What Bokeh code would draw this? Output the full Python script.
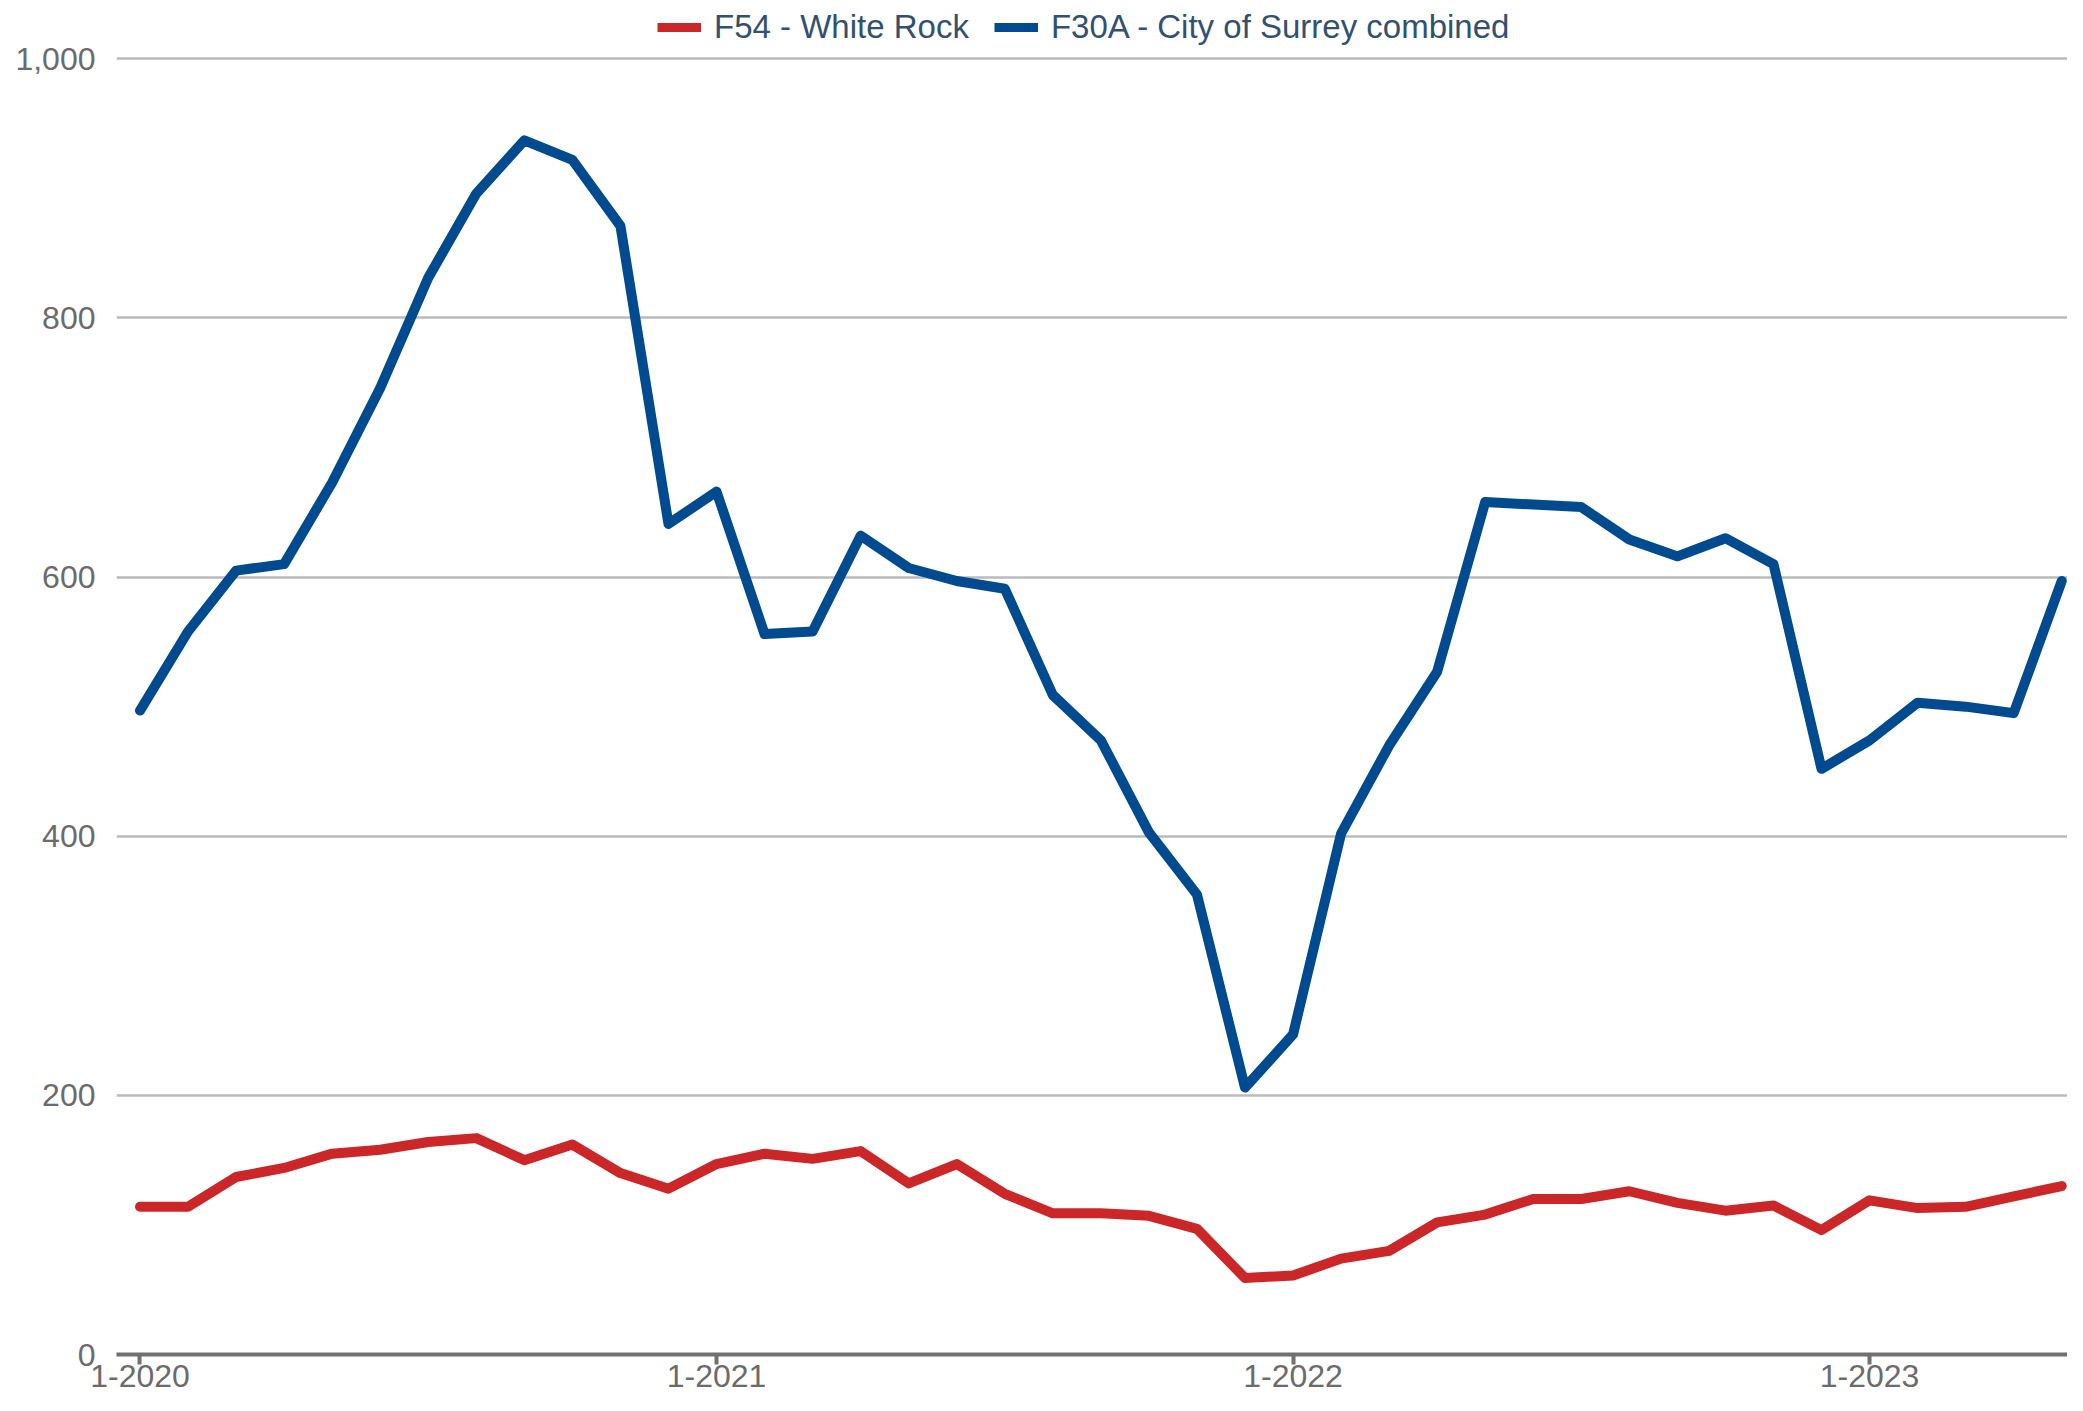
from bokeh.plotting import figure
from bokeh.models import Range1d, FixedTicker, NumeralTickFormatter, Legend, LegendItem, ColumnDataSource
from bokeh.embed import file_html
from bokeh.resources import INLINE

# ---- data ----
years = [2020, 2021, 2022, 2023]
months = [f"{m}-{y}" for y in years for m in range(1, 13)][:41]   # 1-2020 .. 5-2023
tick_labels = ["1-2020", "1-2021", "1-2022", "1-2023"]
white_rock = [114, 114, 137, 144, 155, 158, 164, 167, 150, 162, 140, 128, 147, 155, 151, 157,
              132, 147, 124, 109, 109, 107, 97, 59, 61, 74, 80, 102, 108, 120, 120, 126,
              117, 111, 115, 96, 119, 113, 114, 122, 130]
surrey = [497, 558, 605, 610, 673, 746, 831, 896, 937, 922, 871, 641, 666, 556, 558, 632,
          607, 597, 591, 509, 474, 403, 355, 206, 247, 402, 470, 527, 658, 656, 654, 629,
          616, 630, 610, 452, 474, 503, 500, 495, 597]
series_names = ["F54 - White Rock", "F30A - City of Surrey combined"]
y_ticks = [0, 200, 400, 600, 800, 1000]

RED = "#cb2628"
BLUE = "#004a8f"
FONT = "Liberation Sans"

idx = list(range(len(months)))
src = ColumnDataSource(dict(x=idx, month=months, wr=white_rock, su=surrey))

# frame spans to the top of the canvas so the legend above the 1,000 line is not clipped
p = figure(width=2067, height=1395, output_backend="svg", toolbar_location=None,
           x_range=Range1d(-0.489, 40.12), y_range=Range1d(0, 1045),
           min_border_left=116, min_border_right=0, min_border_top=0, min_border_bottom=41)
p.outline_line_color = None
p.background_fill_color = "white"
p.border_fill_color = "white"

# grid
p.xgrid.grid_line_color = None
p.ygrid.grid_line_color = "#bbbbbb"
p.ygrid.grid_line_width = 2.5
p.ygrid.ticker = FixedTicker(ticks=y_ticks)

# y axis
p.yaxis.ticker = FixedTicker(ticks=y_ticks)
p.yaxis.formatter = NumeralTickFormatter(format="0,0")
p.yaxis.axis_line_color = None
p.yaxis.major_tick_line_color = None
p.yaxis.minor_tick_line_color = None
p.yaxis.major_label_standoff = 15
p.yaxis.major_label_text_font = FONT
p.yaxis.major_label_text_font_size = "32px"
p.yaxis.major_label_text_color = "#6b6b6b"

# x axis
tick_pos = [months.index(t) for t in tick_labels]
p.xaxis.ticker = FixedTicker(ticks=tick_pos)
p.xaxis.major_label_overrides = {pos: lab for pos, lab in zip(tick_pos, tick_labels)}
p.xaxis.axis_line_color = "#717171"
p.xaxis.axis_line_width = 4
p.xaxis.major_tick_line_color = "#717171"
p.xaxis.major_tick_line_width = 4
p.xaxis.major_tick_in = 0
p.xaxis.major_tick_out = 10
p.xaxis.minor_tick_line_color = None
p.xaxis.major_label_standoff = 0
p.xaxis.major_label_text_font = FONT
p.xaxis.major_label_text_font_size = "32px"
p.xaxis.major_label_text_color = "#6b6b6b"

# data lines
p.line("x", "wr", source=src, line_color=RED, line_width=10, line_join="round", line_cap="round")
p.line("x", "su", source=src, line_color=BLUE, line_width=10, line_join="round", line_cap="round")

# legend-only renderers (rectangular swatches); their points lie outside the visible ranges
l1 = p.line(x=[-10, -9], y=[-500, -500], line_color=RED, line_width=9, line_cap="butt")
l2 = p.line(x=[-10, -9], y=[-500, -500], line_color=BLUE, line_width=9, line_cap="butt")
legend = Legend(items=[LegendItem(label=series_names[0], renderers=[l1]),
                       LegendItem(label=series_names[1], renderers=[l2])],
                orientation="horizontal", location=(541, 1308),
                padding=0, margin=0, spacing=25, label_standoff=13,
                glyph_width=44, glyph_height=20,
                label_text_font=FONT, label_text_font_size="33px",
                label_text_color="#34506f",
                border_line_color=None, background_fill_alpha=0)
p.add_layout(legend)

open("out.html", "w").write(file_html(p, INLINE))
